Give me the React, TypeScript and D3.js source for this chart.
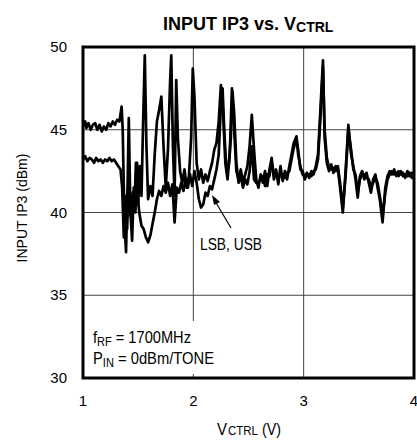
import React from "react";
import * as d3 from "d3";

const xTicks = [1, 2, 3, 4];
const yTicks = [30, 35, 40, 45, 50];

const lsbHead: [number, number][] = [
  [1.00,45.2],[1.02,45.5],[1.03,45.1],[1.05,45.4],[1.07,45.0],[1.09,45.3],[1.11,45.4],[1.13,45.0],[1.15,45.3],[1.17,44.9],
  [1.19,45.2],[1.21,45.0],[1.23,45.4],[1.25,45.2],[1.27,45.5],[1.29,45.3],[1.31,45.6],[1.33,45.5],[1.35,46.4],[1.36,45.0],
  [1.375,39.5],[1.39,37.6],[1.405,42.0],[1.415,45.7],[1.43,40.0],[1.445,38.3],[1.46,41.5],[1.475,40.0],[1.49,43.0],[1.50,40.5],
  [1.515,42.8],[1.53,41.0],[1.545,45.5],[1.56,49.5],[1.575,44.0],[1.59,40.8],[1.61,41.6],[1.63,41.0],[1.65,43.5],[1.67,45.5],
  [1.69,46.2],[1.71,47.0],[1.73,44.0],[1.75,41.5],[1.77,43.8],[1.79,48.0],[1.80,49.5],[1.815,44.0],[1.83,41.0],[1.845,48.0],
  [1.86,44.5],[1.88,42.5],[1.90,41.8],[1.92,42.6],[1.94,41.5],[1.96,42.2],[1.98,44.5],[1.995,48.7],[2.01,47.0],[2.03,43.0],
  [2.05,42.0],[2.07,42.6],[2.09,41.8],[2.11,42.3],[2.13,41.9],[2.15,42.5],[2.17,43.0],[2.19,43.8],[2.21,44.2],[2.23,45.5],
  [2.25,47.7],[2.27,46.0],[2.29,43.0],[2.31,42.0],[2.33,43.5],[2.35,47.5],[2.37,45.0],[2.39,42.5],[2.41,42.0],[2.43,42.6],
  [2.45,41.8],[2.47,42.3],[2.49,42.8],[2.51,44.0],[2.53,45.9],[2.55,43.8],[2.57,42.0]
];

const usbHead: [number, number][] = [
  [1.00,43.2],[1.02,43.4],[1.04,43.1],[1.06,43.3],[1.08,43.2],[1.10,43.0],[1.12,43.3],[1.14,43.1],[1.16,43.2],[1.18,43.0],
  [1.20,43.2],[1.22,43.1],[1.24,43.3],[1.26,43.1],[1.28,43.2],[1.30,43.0],[1.32,42.8],[1.34,42.6],[1.355,41.5],[1.37,38.5],
  [1.385,41.0],[1.40,39.0],[1.415,42.5],[1.43,39.8],[1.45,41.2],[1.465,40.2],[1.48,43.0],[1.495,41.0],[1.51,40.0],[1.53,39.2],
  [1.55,39.0],[1.57,38.5],[1.59,38.2],[1.61,38.6],[1.63,39.3],[1.65,40.0],[1.67,40.8],[1.69,41.3],[1.71,41.0],[1.73,41.6],
  [1.75,41.2],[1.77,41.8],[1.79,41.0],[1.81,41.7],[1.83,39.4],[1.85,41.5],[1.87,41.2],[1.89,41.8],[1.91,41.3],[1.93,42.0],
  [1.95,41.5],[1.97,42.3],[1.99,41.6],[2.01,42.5],[2.03,41.8],[2.05,40.8],[2.07,40.3],[2.09,40.5],[2.11,41.2],[2.13,41.0],
  [2.15,41.6],[2.17,41.4],[2.19,42.0],[2.21,42.6],[2.23,43.5],[2.25,46.5],[2.265,47.5],[2.28,45.0],[2.30,42.5],[2.32,42.8],
  [2.34,44.5],[2.355,47.3],[2.37,46.0],[2.39,43.0],[2.41,41.8],[2.43,42.2],[2.45,41.5],[2.47,42.0],[2.49,41.7],[2.51,42.5],
  [2.53,44.0],[2.55,42.0],[2.57,41.8]
];

const lsbTail: [number, number][] = [
  [2.59,41.5],[2.61,42.3],[2.63,41.8],[2.65,42.5],[2.67,41.6],[2.69,42.6],[2.71,43.3],[2.73,42.0],[2.75,42.6],[2.77,41.7],
  [2.79,42.8],[2.81,41.9],[2.83,42.5],[2.85,42.0],[2.87,42.8],[2.89,43.5],[2.91,44.2],[2.935,44.6],[2.95,43.5],[2.97,42.8],
  [2.99,42.3],[3.01,42.2],[3.03,42.4],[3.05,42.1],[3.07,42.5],[3.09,42.3],[3.11,42.8],[3.13,43.5],[3.15,46.0],[3.175,49.2],
  [3.19,44.5],[3.21,43.0],[3.23,42.5],[3.25,42.9],[3.27,42.4],[3.29,42.8],[3.31,42.6],[3.33,41.5],[3.355,40.0],[3.38,42.5],
  [3.405,45.3],[3.43,43.5],[3.45,42.8],[3.47,42.0],[3.49,40.9],[3.51,42.2],[3.53,42.5],[3.55,42.0],[3.57,42.4],[3.59,41.8],
  [3.61,41.2],[3.63,42.0],[3.65,42.3],[3.67,41.5],[3.69,40.8],[3.715,39.4],[3.74,41.5],[3.76,42.2],[3.78,42.5],[3.80,42.3],
  [3.82,42.6],[3.84,42.2],[3.86,42.5],[3.88,42.3],[3.90,42.4],[3.92,42.1],[3.94,42.5],[3.96,42.2],[3.98,42.4],[4.00,42.3]
];

const usbTail: [number, number][] = [
  [2.59,41.8],[2.61,42.0],[2.63,42.2],[2.65,41.6],[2.67,42.3],[2.69,42.2],[2.71,43.0],[2.73,42.4],[2.75,42.2],[2.77,42.0],
  [2.79,42.4],[2.81,42.2],[2.83,42.1],[2.85,42.4],[2.87,42.5],[2.89,43.2],[2.91,43.9],[2.935,44.4],[2.95,43.8],[2.97,42.6],
  [2.99,42.5],[3.01,42.0],[3.03,42.3],[3.05,42.3],[3.07,42.2],[3.09,42.5],[3.11,42.6],[3.13,43.2],[3.15,45.5],[3.175,48.8],
  [3.19,45.0],[3.21,43.3],[3.23,42.7],[3.25,42.6],[3.27,42.7],[3.29,42.5],[3.31,42.8],[3.33,41.8],[3.355,40.3],[3.38,42.2],
  [3.405,45.0],[3.43,43.8],[3.45,42.6],[3.47,42.3],[3.49,41.2],[3.51,42.0],[3.53,42.3],[3.55,42.3],[3.57,42.1],[3.59,42.0],
  [3.61,41.5],[3.63,41.8],[3.65,42.1],[3.67,41.8],[3.69,41.0],[3.715,39.8],[3.74,41.2],[3.76,42.0],[3.78,42.3],[3.80,42.5],
  [3.82,42.3],[3.84,42.4],[3.86,42.2],[3.88,42.5],[3.90,42.2],[3.92,42.3],[3.94,42.2],[3.96,42.4],[3.98,42.1],[4.00,42.2]
];

const seriesList = [lsbHead.concat(lsbTail), usbHead.concat(usbTail)];

const FONT = "'Liberation Sans', Arial, sans-serif";

export default function App() {
  const W = 417, H = 441;
  const left = 83, right = 414, top = 47, bottom = 378;
  const x = d3.scaleLinear().domain([1, 4]).range([left, right]);
  const y = d3.scaleLinear().domain([30, 50]).range([bottom, top]);
  const line = d3.line<[number, number]>().x(d => x(d[0])).y(d => y(d[1])).curve(d3.curveLinear);

  return (
    <svg width={W} height={H} style={{ position: "absolute", left: 0, top: 0, background: "#fff" }} fontFamily={FONT}>
      <rect x={0} y={0} width={W} height={H} fill="#fff" />
      {/* title */}
      <text x={163} y={30} fontWeight="bold" fontSize={18} fill="#000">
        INPUT IP3 vs. V<tspan fontSize={14} dy={2}>CTRL</tspan>
      </text>
      {/* grid */}
      {yTicks.slice(1, -1).map(t => (
        <line key={"gy" + t} x1={left} x2={right} y1={y(t)} y2={y(t)} stroke="#444" strokeWidth={1} />
      ))}
      {xTicks.slice(1, -1).map(t => (
        <line key={"gx" + t} x1={x(t)} x2={x(t)} y1={top} y2={bottom} stroke="#444" strokeWidth={1} />
      ))}
      {/* data */}
      {seriesList.map((s, i) => (
        <path key={i} d={line(s) || ""} fill="none" stroke="#000" strokeWidth={2.7} strokeLinejoin="round" />
      ))}
      {/* text box */}
      <rect x={86} y={321} width={130} height={53} fill="#fff" />
      <text x={93} y={343} fontSize={16} fill="#000" textLength={98} lengthAdjust="spacingAndGlyphs">
        f<tspan fontSize={12} dy={3}>RF</tspan><tspan dy={-3}> = 1700MHz</tspan>
      </text>
      <text x={93} y={364} fontSize={16} fill="#000" textLength={121} lengthAdjust="spacingAndGlyphs">
        P<tspan fontSize={12} dy={3}>IN</tspan><tspan dy={-3}> = 0dBm/TONE</tspan>
      </text>
      {/* frame */}
      <rect x={left} y={top} width={right - left} height={bottom - top} fill="none" stroke="#000" strokeWidth={3} />
      {/* annotation */}
      <line x1={231} y1={228} x2={215} y2={201} stroke="#000" strokeWidth={1.2} />
      <path d="M212,195 L220,202 L214,205 Z" fill="#000" />
      <text x={200} y={250} fontSize={16} fill="#000" textLength={62} lengthAdjust="spacingAndGlyphs">LSB, USB</text>
      {/* y ticks */}
      {yTicks.map(t => (
        <text key={"ty" + t} x={67} y={y(t) + 5} textAnchor="end" fontSize={15} fill="#000">{t}</text>
      ))}
      {xTicks.map(t => (
        <text key={"tx" + t} x={x(t)} y={406} textAnchor="middle" fontSize={15} fill="#000">{t}</text>
      ))}
      {/* axis titles */}
      <text x={217} y={435} fontSize={16} fill="#000" textLength={10} lengthAdjust="spacingAndGlyphs">V</text>
      <text x={228} y={435} fontSize={13} fill="#000" textLength={30} lengthAdjust="spacingAndGlyphs">CTRL</text>
      <text x={262} y={435} fontSize={16} fill="#000" textLength={19} lengthAdjust="spacingAndGlyphs">(V)</text>
      <text transform="translate(27,208) rotate(-90)" textAnchor="middle" fontSize={15} fill="#000" textLength={109} lengthAdjust="spacingAndGlyphs">INPUT IP3 (dBm)</text>
    </svg>
  );
}
